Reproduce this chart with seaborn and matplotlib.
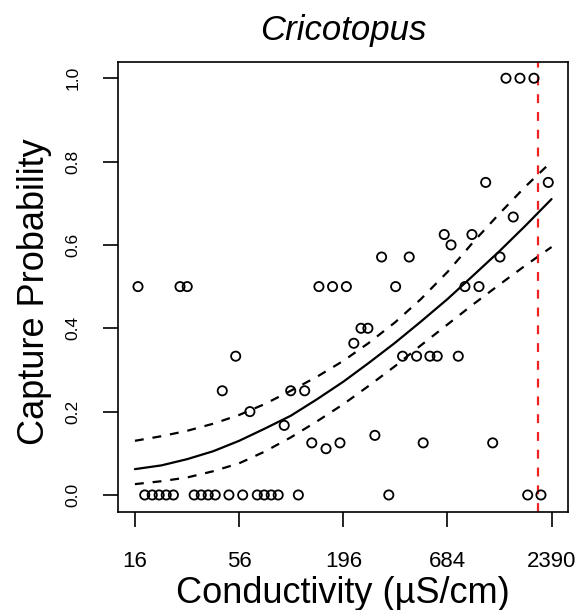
import numpy as np
import pandas as pd
import matplotlib
matplotlib.use("Agg")
import matplotlib.pyplot as plt
import seaborn as sns

cond_zero = [18.0, 19.7, 21.4, 23.3, 25.4, 32.6, 35.5, 38.6, 42.0, 49.5,
             58.4, 69.6, 75.7, 82.3, 89.5, 114, 338, 1794, 2104]
cond_half = [16.6, 27.5, 30.0, 146, 172, 203, 367, 844, 999]
cond_one = [1382, 1635, 1934]
cond_other = [1083, 2297, 1508, 658, 918, 714, 310, 432, 1286, 242, 263, 222,
              53.7, 399, 472, 554, 605, 779, 45.7, 104, 123, 63.7, 96.2, 286,
              134, 188, 511, 1178, 159]
prob_other = [0.75, 0.75, 0.667, 0.625, 0.625, 0.6, 0.571, 0.571, 0.571, 0.4, 0.4, 0.364,
              0.333, 0.333, 0.333, 0.333, 0.333, 0.333, 0.25, 0.25, 0.25, 0.2, 0.167, 0.143,
              0.125, 0.125, 0.125, 0.125, 0.111]

# fitted curve and confidence band
curve_cond = [16, 22, 30, 41, 56, 76, 104, 143, 196, 266, 364, 497, 684, 929, 1271, 1736, 2390]
fit = [0.062, 0.071, 0.086, 0.105, 0.130, 0.159, 0.190, 0.230, 0.272, 0.317, 0.365,
       0.416, 0.470, 0.526, 0.584, 0.645, 0.710]
upper = [0.130, 0.141, 0.154, 0.171, 0.192, 0.218, 0.250, 0.284, 0.322, 0.365, 0.414,
         0.470, 0.535, 0.606, 0.674, 0.739, 0.800]
lower = [0.026, 0.033, 0.042, 0.057, 0.076, 0.104, 0.138, 0.177, 0.218, 0.262, 0.309,
         0.359, 0.409, 0.457, 0.504, 0.550, 0.595]

threshold = 2040

xticks = [16, 56, 196, 684, 2390]
yticks = [0.0, 0.2, 0.4, 0.6, 0.8, 1.0]

pts = pd.DataFrame({
    "cond": cond_zero + cond_half + cond_one + cond_other,
    "prob": [0.0] * len(cond_zero) + [0.5] * len(cond_half) + [1.0] * len(cond_one) + prob_other,
})
curves = pd.DataFrame({"cond": curve_cond, "fit": fit, "upper": upper, "lower": lower})

sns.set_style("ticks")
plt.rcParams["font.family"] = ["Liberation Sans", "DejaVu Sans"]
for key in ["text.color", "axes.labelcolor", "xtick.color", "ytick.color", "axes.edgecolor"]:
    plt.rcParams[key] = "black"

fig = plt.figure(figsize=(5.82, 6.10), dpi=100)
ax = fig.add_axes([0.2027, 0.1607, 0.7732, 0.7377])

sns.scatterplot(data=pts, x="cond", y="prob", ax=ax, marker="o", s=44,
                facecolor="none", edgecolor="black", linewidth=1.3, zorder=3)
sns.lineplot(data=curves, x="cond", y="fit", ax=ax, color="black", lw=1.6, sort=False, estimator=None)
sns.lineplot(data=curves, x="cond", y="upper", ax=ax, color="black", lw=1.6, sort=False,
             estimator=None).lines[-1].set_dashes((4, 4))
sns.lineplot(data=curves, x="cond", y="lower", ax=ax, color="black", lw=1.6, sort=False,
             estimator=None).lines[-1].set_dashes((4, 4))
ax.axvline(threshold, color="#ee2222", lw=1.6, dashes=(4, 4))

ax.set_xscale("log")
ax.set_xlim(13.05, 2911)
ax.set_ylim(-0.0408, 1.039)
ax.set_xticks(xticks)
ax.set_xticklabels([str(t) for t in xticks])
ax.minorticks_off()
ax.set_yticks(yticks)
ax.set_yticklabels([f"{t:.1f}" for t in yticks], rotation=90, va="center")

ax.tick_params(axis="both", direction="out", length=10.8, width=1.2, color="black",
               bottom=True, left=True)
ax.tick_params(axis="x", labelsize=16, pad=17)
ax.tick_params(axis="y", labelsize=12.5, pad=16)
for s in ax.spines.values():
    s.set_visible(True)
    s.set_color("black")
    s.set_linewidth(1.2)

ax.set_xlabel("Conductivity (µS/cm)", fontsize=26)
ax.xaxis.set_label_coords(0.5, -0.142)
ax.set_ylabel("Capture Probability", fontsize=26)
ax.yaxis.set_label_coords(-0.147, 0.49)
ax.set_title("Cricotopus", fontsize=25, style="italic", pad=15.8)

fig.savefig("out.png", dpi=100)
